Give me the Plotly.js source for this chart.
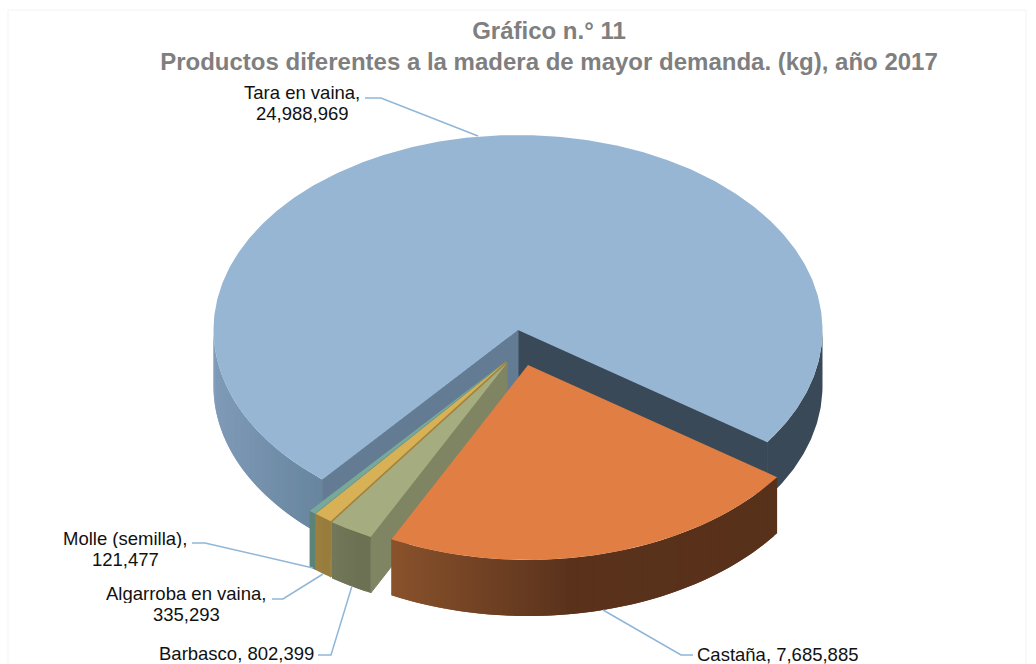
<!DOCTYPE html>
<html>
<head>
<meta charset="utf-8">
<script src="https://cdn.plot.ly/plotly-3.0.1.min.js"></script>
<style>html,body{margin:0;padding:0;background:#fff}#chart{width:1036px;height:664px}</style>
</head>
<body>
<div id="chart"></div>
<script>
// ---- data ----
const categories = ['Tara en vaina', 'Castaña', 'Barbasco', 'Algarroba en vaina', 'Molle (semilla)'];
const values = [24988969, 7685885, 802399, 335293, 121477];
const chartTitle = 'Gráfico n.° 11<br>Productos diferentes a la madera de mayor demanda. (kg), año 2017';

// ---- style ----
const topColors = ['#96b6d4', '#e07e43', '#a5ac80', '#d8b157', '#77a899'];
const rayColors = ['#647c93', '#5a321c', '#7f8462', '#a3833c', '#5f8a7e'];
const wallStops = [
  [[213, '#7f9bb8'], [330, '#67849e']],
  [[391, '#8b532c'], [575, '#5a321c'], [790, '#58311b']],
  [[332, '#74785b'], [371, '#6c7053']],
  [[314, '#a08340'], [332, '#957a3b']],
  [[308, '#5f8a7e'], [315, '#5a8276']]
];
const taraDark = '#394958';
const leaderColor = '#8fb6d8';
const twoLines = [true, false, false, true, true];
const labelPos = [[302, 103], [778, 654], [236, 653], [186, 604], [125, 549]];
const leaders = [
  [[365, 98], [381, 98], [478, 136]],
  [[603, 610], [681, 655], [693, 655]],
  [[318, 655], [331, 655], [352, 586]],
  [[272, 599], [283, 599], [323, 574]],
  [[192, 543], [205, 543], [313, 568]]
];
const apexes = [[518, 330], [528, 365], [507.3, 362.7], [506, 361.7], [505.5, 361.5]];
const RX = 304.5, RY = 195, DEPTH = 56, START_DEG = 220, LINE_GAP = 21;

// ---- geometry: angles come from the values ----
const total = values.reduce((a, b) => a + b, 0);
let acc = START_DEG;
const spans = values.map(v => { const s = acc; acc += v / total * 360; return [s, acc]; });
const pt = (i, deg) => {
  const r = deg * Math.PI / 180;
  return [apexes[i][0] + RX * Math.sin(r), apexes[i][1] - RY * Math.cos(r)];
};
const hex = c => [1, 3, 5].map(k => parseInt(c.substr(k, 2), 16));
const mix = (stops, x) => {
  if (x <= stops[0][0]) return stops[0][1];
  for (let k = 1; k < stops.length; k++) {
    if (x <= stops[k][0]) {
      const t = (x - stops[k - 1][0]) / (stops[k][0] - stops[k - 1][0]);
      const a = hex(stops[k - 1][1]), b = hex(stops[k][1]);
      return 'rgb(' + a.map((v, j) => Math.round(v + (b[j] - v) * t)).join(',') + ')';
    }
  }
  return stops[stops.length - 1][1];
};
const traces = [];
const poly = (pts, color, w) => traces.push({
  type: 'scatter', mode: 'lines', x: pts.map(p => p[0]), y: pts.map(p => p[1]),
  fill: 'toself', fillcolor: color, line: {color: color, width: w || 0},
  hoverinfo: 'skip', showlegend: false
});
const band = (i, a0, a1, color) => {
  const n = Math.max(2, Math.ceil((a1 - a0) / 0.6)), up = [], down = [];
  for (let k = 0; k <= n; k++) {
    const p = pt(i, a0 + (a1 - a0) * k / n);
    up.push(p); down.unshift([p[0], p[1] + DEPTH]);
  }
  poly(up.concat(down, [up[0]]), color);
};
// gradient wall: overlapping bands, each one painted over the start of the previous
const wall = (i, a0, a1, stops) => {
  const step = 1, n = Math.max(1, Math.ceil((a1 - a0) / step)), d = (a1 - a0) / n;
  for (let k = 0; k < n; k++) {
    const s = a1 - d * (k + 1);
    const x = (pt(i, s)[0] + pt(i, s + d)[0]) / 2;
    band(i, s, Math.min(a1, s + 2 * d), mix(stops, x));
  }
};
const ray = (i, deg, color) => {
  const a = apexes[i], p = pt(i, deg);
  poly([a, p, [p[0], p[1] + DEPTH], [a[0], a[1] + DEPTH], a], color, 1);
};
const topFace = (i) => {
  const [s, e] = spans[i], pts = [apexes[i]];
  const n = Math.max(2, Math.ceil((e - s) / 0.6));
  for (let k = 0; k <= n; k++) pts.push(pt(i, s + (e - s) * k / n));
  pts.push(apexes[i]);
  poly(pts, topColors[i]);
};

// Tara: outer walls, cut faces, top
band(0, 90, spans[0][1] - 360, taraDark);
wall(0, 220, 270, wallStops[0]);
ray(0, spans[0][1], taraDark);
ray(0, spans[0][0], rayColors[0]);
topFace(0);
// small slices, back to front
[4, 3, 2].forEach(i => {
  ray(i, spans[i][0], rayColors[i]);
  wall(i, spans[i][0], spans[i][1], wallStops[i]);
  topFace(i);
});
// Castaña
wall(1, spans[1][0], spans[1][1], wallStops[1]);
topFace(1);

// leader lines
leaders.forEach(l => traces.push({
  type: 'scatter', mode: 'lines', x: l.map(p => p[0]), y: l.map(p => p[1]),
  line: {color: leaderColor, width: 1.5}, hoverinfo: 'skip', showlegend: false
}));

const labelFont = {family: '"Liberation Sans", Arial, sans-serif', size: 18.5, color: '#111111'};
const annotations = [];
categories.forEach((c, i) => {
  const v = values[i].toLocaleString('en-US');
  const lines = twoLines[i] ? [c + ',', v] : [c + ', ' + v];
  lines.forEach((t, k) => annotations.push({
    x: labelPos[i][0], y: labelPos[i][1] + (k - (lines.length - 1) / 2) * LINE_GAP,
    xref: 'x', yref: 'y', showarrow: false, text: t, font: labelFont,
    height: 19, borderpad: 0
  }));
});

const layout = {
  width: 1036, height: 664, margin: {l: 0, r: 0, t: 0, b: 0},
  paper_bgcolor: '#ffffff', plot_bgcolor: '#ffffff', showlegend: false,
  title: {text: chartTitle, x: 549 / 1036, xanchor: 'center', y: 1 - 39 / 664, yanchor: 'middle',
    font: {family: '"Liberation Sans", Arial, sans-serif', size: 24, color: '#7f7f7f', weight: 'bold'}},
  xaxis: {range: [0, 1036], visible: false, fixedrange: true},
  yaxis: {range: [664, 0], visible: false, fixedrange: true},
  shapes: [{type: 'rect', xref: 'x', yref: 'y', x0: 8, y0: 10, x1: 1026, y1: 670,
    line: {color: '#eff3f8', width: 1}, layer: 'below'}],
  annotations: annotations
};
Plotly.newPlot('chart', traces, layout, {displayModeBar: false, staticPlot: true});
</script>
</body>
</html>
